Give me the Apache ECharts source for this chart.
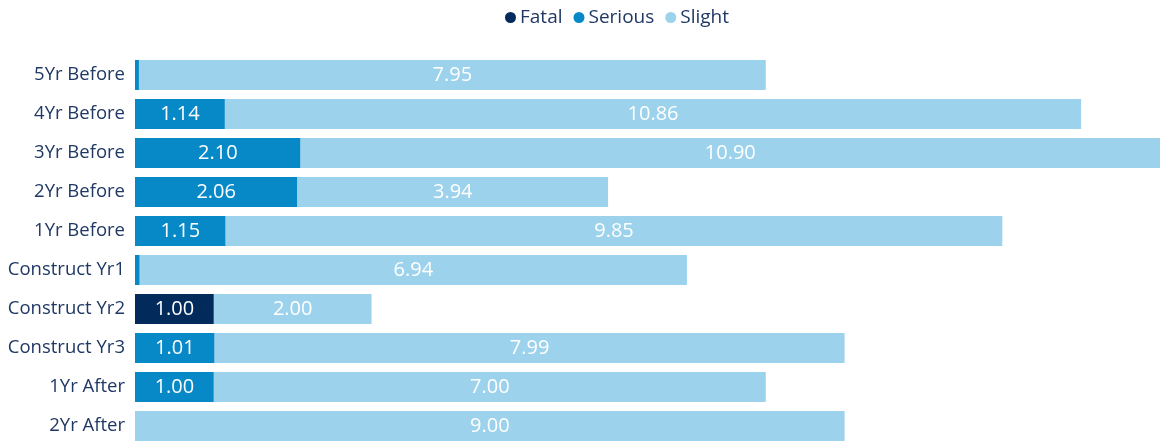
<!DOCTYPE html>
<html>
<head>
<meta charset="utf-8">
<script src="https://cdn.jsdelivr.net/npm/echarts@6/dist/echarts.min.js"></script>
<style>
  html, body { margin: 0; padding: 0; background: #fff; }
  #chart { width: 1161px; height: 441px; }
</style>
</head>
<body>
<div id="chart"></div>
<script>
const categories = ['5Yr Before', '4Yr Before', '3Yr Before', '2Yr Before', '1Yr Before',
  'Construct Yr1', 'Construct Yr2', 'Construct Yr3', '1Yr After', '2Yr After'];
const fatal = [0, 0, 0, 0, 0, 0, 1.00, 0, 0, 0];
const serious = [0.05, 1.14, 2.10, 2.06, 1.15, 0.06, 0, 1.01, 1.00, 0];
const slight = [7.95, 10.86, 10.90, 3.94, 9.85, 6.94, 2.00, 7.99, 7.00, 9.00];

const fontFamily = '"Open Sans", "Noto Sans", sans-serif';

// hide labels on segments too thin to hold text
function labelFmt(p) {
  return p.value >= 0.5 ? p.value.toFixed(2) : '';
}

function makeSeries(name, data, color) {
  return {
    name: name,
    type: 'bar',
    stack: 'total',
    barWidth: '77%',
    data: data,
    itemStyle: { color: color },
    label: {
      show: true,
      position: 'inside',
      color: '#fff',
      fontSize: 20,
      fontFamily: fontFamily,
      formatter: labelFmt
    }
  };
}

const myChart = echarts.init(document.getElementById('chart'));
myChart.setOption({
  animation: false,
  legend: {
    top: 3,
    left: 500,
    icon: 'circle',
    itemWidth: 11,
    itemHeight: 11,
    itemGap: 11,
    textStyle: { fontSize: 19, color: '#1f3864', fontFamily: fontFamily, padding: [0, 0, 0, -1] }
  },
  grid: { left: 135, right: 1, top: 55.5, height: 390, outerBoundsMode: 'none' },
  xAxis: {
    type: 'value',
    min: 0,
    max: 13,
    show: false
  },
  yAxis: {
    type: 'category',
    inverse: true,
    data: categories,
    axisLine: { show: false },
    axisTick: { show: false },
    axisLabel: { fontSize: 18.5, color: '#1f3864', margin: 10, fontFamily: fontFamily }
  },
  series: [
    makeSeries('Fatal', fatal, '#022b5c'),
    makeSeries('Serious', serious, '#0789c8'),
    makeSeries('Slight', slight, '#9cd2eb')
  ]
});
</script>
</body>
</html>
